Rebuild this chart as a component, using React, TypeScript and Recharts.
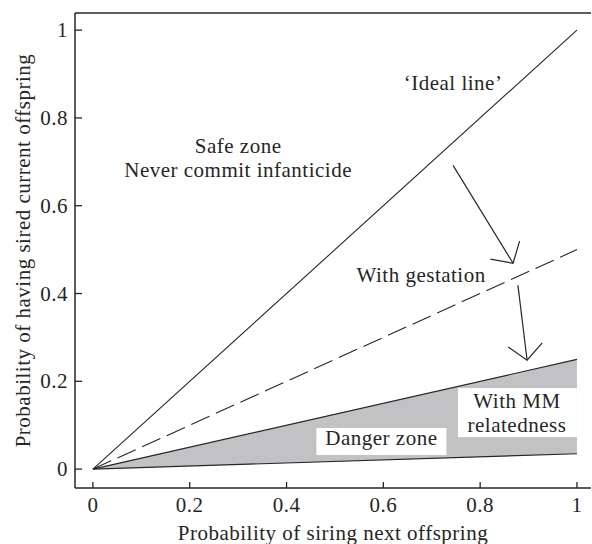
import React from 'react'
import {
  Area,
  ComposedChart,
  Label,
  Line,
  ReferenceDot,
  ReferenceLine,
  XAxis,
  YAxis,
} from 'recharts'

// line end points (x = probability of siring next offspring)
const X_POINTS = [0, 1]
const IDEAL_LINE = [0, 1]
const GESTATION_LINE = [0, 0.5]
const MM_UPPER = [0, 0.25]
const MM_LOWER = [0, 0.035]

const X_TICKS = [0, 0.2, 0.4, 0.6, 0.8, 1]
const Y_TICKS = [0, 0.2, 0.4, 0.6, 0.8, 1]
const X_DOMAIN = [-0.037, 1.029]
const Y_DOMAIN = [-0.043, 1.039]

// arrows, [from, to] in data units
const ARROW_GESTATION = [
  { x: 0.744, y: 0.692 },
  { x: 0.868, y: 0.469 },
]
const ARROW_MM = [
  { x: 0.878, y: 0.419 },
  { x: 0.897, y: 0.248 },
]

// text notes, anchored at the first baseline
const NOTE_SAFE = { x: 0.3, y: 0.72, lines: ['Safe zone', 'Never commit infanticide'] }
const NOTE_IDEAL = { x: 0.744, y: 0.863, lines: ['\u2018Ideal line\u2019'] }
const NOTE_GESTATION = { x: 0.678, y: 0.426, lines: ['With gestation'] }
const NOTE_DANGER = { x: 0.596, y: 0.055, lines: ['Danger zone'] }
const NOTE_MM = { x: 0.876, y: 0.139, lines: ['With MM', 'relatedness'] }

const FONT = '"Liberation Serif", "DejaVu Serif", serif'
const INK = '#262626'
const FONT_SIZE = 21
const SPACING = 0.5

const chartData = X_POINTS.map((x, i) => ({
  x,
  ideal: IDEAL_LINE[i],
  gestation: GESTATION_LINE[i],
  upper: MM_UPPER[i],
  lower: MM_LOWER[i],
  band: [MM_LOWER[i], MM_UPPER[i]],
}))

const textStyle = {
  fill: INK,
  fontFamily: FONT,
  fontSize: FONT_SIZE,
  letterSpacing: SPACING,
}

const XTick = (props: any) => {
  const { x, y, payload } = props
  return (
    <g>
      <line x1={x} y1={y} x2={x} y2={y - 6} stroke={INK} strokeWidth={1.3} />
      <text x={x} y={y + 24} textAnchor="middle" style={textStyle}>
        {String(payload.value)}
      </text>
    </g>
  )
}

const YTick = (props: any) => {
  const { x, y, payload } = props
  return (
    <g>
      <line x1={x} y1={y} x2={x + 7} y2={y} stroke={INK} strokeWidth={1.3} />
      <text x={x - 7} y={y} dy="0.34em" textAnchor="end" style={textStyle}>
        {String(payload.value)}
      </text>
    </g>
  )
}

const ArrowShape = (props: any) => {
  const { x1, y1, x2, y2 } = props
  const ang = Math.atan2(y2 - y1, x2 - x1)
  const len = 23
  const spread = (48 * Math.PI) / 180
  const w1x = x2 - len * Math.cos(ang - spread)
  const w1y = y2 - len * Math.sin(ang - spread)
  const w2x = x2 - len * Math.cos(ang + spread)
  const w2y = y2 - len * Math.sin(ang + spread)
  return (
    <g stroke={INK} strokeWidth={1.2} fill="none">
      <line x1={x1} y1={y1} x2={x2} y2={y2} />
      <polyline points={`${w1x},${w1y} ${x2},${y2} ${w2x},${w2y}`} />
    </g>
  )
}

type Box = { left: number; top: number; width: number; height: number }

const noteShape = (lines: string[], box?: Box) => (props: any) => {
  const { cx, cy } = props
  return (
    <g>
      {box && (
        <rect x={cx + box.left} y={cy + box.top} width={box.width} height={box.height} fill="#fff" />
      )}
      <text x={cx} y={cy} textAnchor="middle" style={textStyle}>
        {lines.map((l, i) => (
          <tspan key={i} x={cx} dy={i === 0 ? 0 : 24}>
            {l}
          </tspan>
        ))}
      </text>
    </g>
  )
}

const axisLine = { stroke: INK, strokeWidth: 1.5 }

export default function App() {
  return (
    <div style={{ position: 'absolute', left: 0, top: 0, width: 592, height: 544, background: '#fff' }}>
      <ComposedChart
        width={592}
        height={544}
        data={chartData}
        margin={{ top: 13, right: 1, left: 0, bottom: 0 }}
      >
        <XAxis
          dataKey="x"
          type="number"
          domain={X_DOMAIN}
          ticks={X_TICKS}
          interval={0}
          allowDataOverflow
          height={56}
          axisLine={axisLine}
          tickLine={false}
          tickSize={0}
          tickMargin={0}
          tick={(p: any) => <XTick {...p} />}
        >
          <Label
            content={(p: any) => {
              const vb = p.viewBox
              return (
                <text x={vb.x + vb.width / 2} y={vb.y + 52} textAnchor="middle" style={textStyle}>
                  Probability of siring next offspring
                </text>
              )
            }}
          />
        </XAxis>
        <YAxis
          type="number"
          domain={Y_DOMAIN}
          ticks={Y_TICKS}
          interval={0}
          allowDataOverflow
          width={75}
          axisLine={axisLine}
          tickLine={false}
          tickSize={0}
          tickMargin={0}
          tick={(p: any) => <YTick {...p} />}
        >
          <Label
            content={(p: any) => {
              const vb = p.viewBox
              const tx = vb.x + 30
              const ty = vb.y + vb.height / 2
              return (
                <text
                  x={tx}
                  y={ty}
                  transform={`rotate(-90, ${tx}, ${ty})`}
                  textAnchor="middle"
                  style={textStyle}
                >
                  Probability of having sired current offspring
                </text>
              )
            }}
          />
        </YAxis>
        <ReferenceLine y={Y_DOMAIN[1]} stroke={INK} strokeWidth={1.5} />
        <Area
          type="linear"
          dataKey="band"
          stroke="none"
          fill="#c2c2c4"
          fillOpacity={1}
          isAnimationActive={false}
        />
        <Line type="linear" dataKey="ideal" stroke={INK} strokeWidth={1.1} dot={false} isAnimationActive={false} />
        <Line
          type="linear"
          dataKey="gestation"
          stroke={INK}
          strokeWidth={1.1}
          strokeDasharray="20 7"
          dot={false}
          isAnimationActive={false}
        />
        <Line type="linear" dataKey="upper" stroke={INK} strokeWidth={1.2} dot={false} isAnimationActive={false} />
        <Line type="linear" dataKey="lower" stroke={INK} strokeWidth={1.2} dot={false} isAnimationActive={false} />
        <ReferenceLine segment={ARROW_GESTATION} shape={ArrowShape} />
        <ReferenceLine segment={ARROW_MM} shape={ArrowShape} />
        <ReferenceDot x={NOTE_SAFE.x} y={NOTE_SAFE.y} r={0} shape={noteShape(NOTE_SAFE.lines)} />
        <ReferenceDot x={NOTE_IDEAL.x} y={NOTE_IDEAL.y} r={0} shape={noteShape(NOTE_IDEAL.lines)} />
        <ReferenceDot x={NOTE_GESTATION.x} y={NOTE_GESTATION.y} r={0} shape={noteShape(NOTE_GESTATION.lines)} />
        <ReferenceDot
          x={NOTE_DANGER.x}
          y={NOTE_DANGER.y}
          r={0}
          shape={noteShape(NOTE_DANGER.lines, { left: -65, top: -17, width: 130, height: 27 })}
        />
        <ReferenceDot
          x={NOTE_MM.x}
          y={NOTE_MM.y}
          r={0}
          shape={noteShape(NOTE_MM.lines, { left: -59, top: -20, width: 119, height: 49 })}
        />
      </ComposedChart>
    </div>
  )
}
